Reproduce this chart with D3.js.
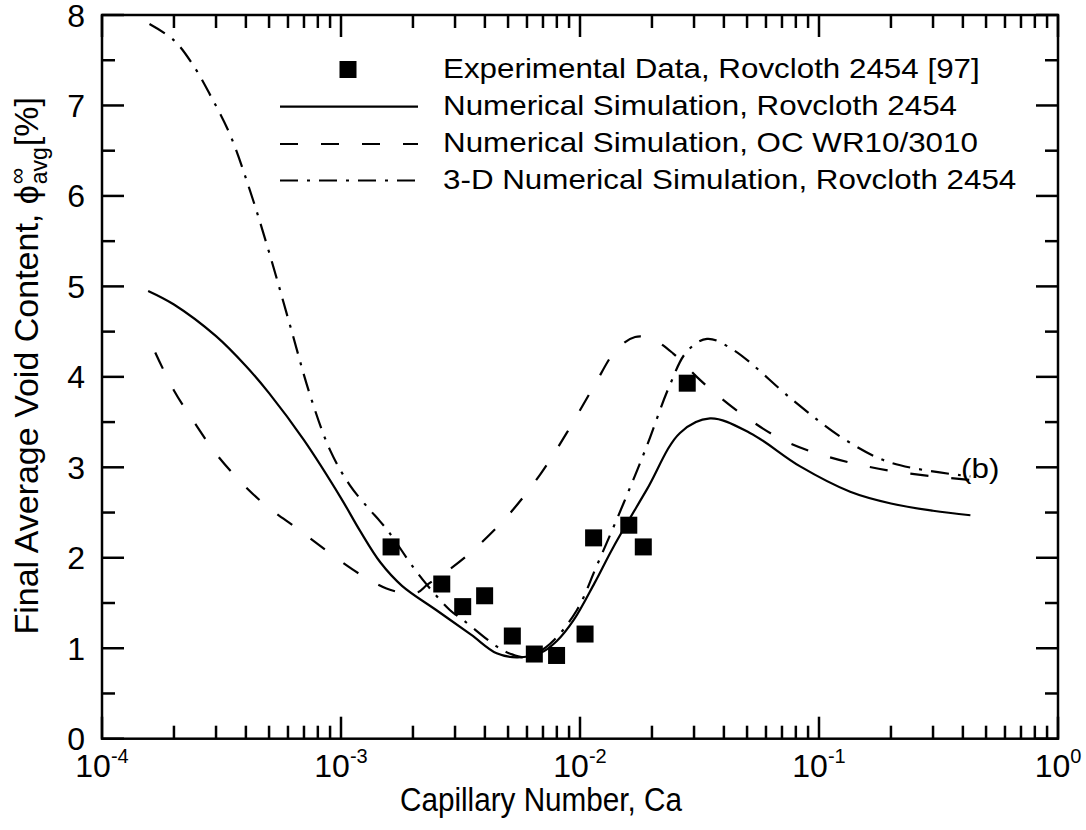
<!DOCTYPE html>
<html>
<head>
<meta charset="utf-8">
<script src="https://cdn.jsdelivr.net/npm/d3@7"></script>
<style>
  html, body { margin: 0; padding: 0; background: #fff; }
  svg { display: block; font-family: "Liberation Sans", Arial, sans-serif; }
</style>
</head>
<body>
<svg id="chart" width="1086" height="830"></svg>
<script>
// ---------- data ----------
const expCa   = [1.62e-3, 2.64e-3, 3.23e-3, 3.99e-3, 5.21e-3, 6.44e-3, 7.98e-3, 1.05e-2, 1.14e-2, 1.60e-2, 1.84e-2, 2.81e-2];
const expVoid = [2.12, 1.71, 1.46, 1.58, 1.135, 0.936, 0.92, 1.157, 2.22, 2.36, 2.12, 3.93];

const rovCa   = [1.56e-4, 2e-4, 3e-4, 4e-4, 5e-4, 7e-4, 1e-3, 1.2e-3, 1.46e-3, 1.8e-3, 2.51e-3, 3.5e-3, 4.48e-3, 5.43e-3, 6.8e-3, 8e-3, 9.4e-3, 1.15e-2, 1.38e-2, 1.9e-2, 2.62e-2, 3.5e-2, 5.14e-2, 8.34e-2, 0.135, 0.2, 0.3, 0.43];
const rovVoid = [4.95, 4.80, 4.45, 4.12, 3.82, 3.30, 2.66, 2.30, 1.95, 1.69, 1.42, 1.15, 0.944, 0.90, 0.944, 1.08, 1.31, 1.72, 2.12, 2.75, 3.38, 3.54, 3.38, 3.01, 2.73, 2.60, 2.52, 2.47];

const ocCa   = [1.67e-4, 2e-4, 2.5e-4, 3e-4, 4e-4, 5e-4, 6.5e-4, 8e-4, 1e-3, 1.25e-3, 1.55e-3, 1.85e-3, 2.1e-3, 2.29e-3, 2.77e-3, 3.39e-3, 4.93e-3, 6.81e-3, 8.8e-3, 1.14e-2, 1.42e-2, 1.7e-2, 2.0e-2, 2.45e-2, 3.08e-2, 3.6e-2, 4.8e-2, 7.08e-2, 0.108, 0.2, 0.43];
const ocVoid = [4.27, 3.85, 3.45, 3.15, 2.78, 2.55, 2.33, 2.15, 1.96, 1.79, 1.66, 1.61, 1.62, 1.70, 1.85, 2.03, 2.45, 2.92, 3.38, 3.89, 4.30, 4.44, 4.42, 4.26, 4.00, 3.84, 3.58, 3.30, 3.12, 2.96, 2.86];

const d3Ca   = [1.58e-4, 2.0e-4, 2.4e-4, 2.83e-4, 3.43e-4, 4.16e-4, 5.05e-4, 6.12e-4, 7.42e-4, 9.0e-4, 1.09e-3, 1.3e-3, 1.46e-3, 1.6e-3, 2.0e-3, 2.29e-3, 2.86e-3, 3.25e-3, 4.48e-3, 5.1e-3, 6e-3, 7.5e-3, 9.7e-3, 1.17e-2, 1.52e-2, 1.9e-2, 2.36e-2, 2.8e-2, 3.4e-2, 4.37e-2, 7.8e-2, 0.126, 0.2, 0.43];
const d3Void = [7.90, 7.72, 7.45, 7.12, 6.68, 6.06, 5.34, 4.57, 3.80, 3.19, 2.80, 2.55, 2.40, 2.27, 1.90, 1.70, 1.42, 1.31, 1.02, 0.94, 0.90, 1.05, 1.42, 1.90, 2.60, 3.23, 3.89, 4.28, 4.42, 4.30, 3.74, 3.32, 3.05, 2.90];

const xTickExps = [-4, -3, -2, -1, 0];
const yTicks = [0, 1, 2, 3, 4, 5, 6, 7, 8];

const legendLabels = [
  "Experimental Data, Rovcloth 2454 [97]",
  "Numerical Simulation, Rovcloth 2454",
  "Numerical Simulation, OC WR10/3010",
  "3-D Numerical Simulation, Rovcloth 2454"
];

// ---------- layout ----------
const svg = d3.select("#chart");
const L = 102, R = 1058, T = 15, B = 738.7;
const x = d3.scaleLog().domain([1e-4, 1]).range([L, R]);
const y = d3.scaleLinear().domain([0, 8]).range([B, T]);

const TICKFONT = 32;
const dashStyle = "18 23";
const dashDotStyle = "18 9 3 9";

// plot lines
const line = d3.line().x(d => x(d[0])).y(d => y(d[1])).curve(d3.curveCatmullRom.alpha(0.5));
function drawSeries(ca, v, dash) {
  svg.append("path")
    .datum(ca.map((c, i) => [c, v[i]]))
    .attr("d", line)
    .attr("fill", "none")
    .attr("stroke", "#000")
    .attr("stroke-width", 2.2)
    .attr("stroke-dasharray", dash);
}
drawSeries(rovCa, rovVoid, null);
drawSeries(ocCa, ocVoid, dashStyle);
drawSeries(d3Ca, d3Void, dashDotStyle);

// experimental squares
const S = 17;
svg.append("g").selectAll("rect")
  .data(expCa.map((c, i) => [c, expVoid[i]]))
  .join("rect")
  .attr("x", d => x(d[0]) - S / 2)
  .attr("y", d => y(d[1]) - S / 2)
  .attr("width", S).attr("height", S)
  .attr("fill", "#000");

// axes (ticks inside)
const minorX = [];
for (let e = -4; e < 0; e++) for (let m = 2; m <= 9; m++) minorX.push(m * Math.pow(10, e));
const majorX = xTickExps.map(e => Math.pow(10, e));
const minorY = d3.range(0.5, 8, 1);

const axisG = svg.append("g").attr("stroke", "#000").attr("stroke-width", 2.5);
function tickLines(vals, scale, dir, len) {
  vals.forEach(v => {
    const p = scale(v);
    if (dir === "bottom") axisG.append("line").attr("x1", p).attr("x2", p).attr("y1", B).attr("y2", B - len);
    if (dir === "top") axisG.append("line").attr("x1", p).attr("x2", p).attr("y1", T).attr("y2", T + len);
    if (dir === "left") axisG.append("line").attr("y1", p).attr("y2", p).attr("x1", L).attr("x2", L + len);
    if (dir === "right") axisG.append("line").attr("y1", p).attr("y2", p).attr("x1", R).attr("x2", R - len);
  });
}
tickLines(majorX, x, "bottom", 22); tickLines(minorX, x, "bottom", 13);
tickLines(majorX, x, "top", 22); tickLines(minorX, x, "top", 13);
tickLines(yTicks, y, "left", 22); tickLines(minorY, y, "left", 13);
tickLines(yTicks, y, "right", 22); tickLines(minorY, y, "right", 13);
svg.append("rect").attr("x", L).attr("y", T).attr("width", R - L).attr("height", B - T)
  .attr("fill", "none").attr("stroke", "#000").attr("stroke-width", 2.5);

// y tick labels
svg.append("g").selectAll("text").data(yTicks).join("text")
  .attr("x", 85).attr("y", d => y(d) + 11.5)
  .attr("text-anchor", "end").attr("font-size", TICKFONT)
  .text(d => d);

// x tick labels
xTickExps.forEach(e => {
  const t = svg.append("text")
    .attr("x", x(Math.pow(10, e))).attr("y", 777)
    .attr("text-anchor", "middle").attr("font-size", TICKFONT);
  t.append("tspan").text("10");
  t.append("tspan").attr("font-size", 20).attr("dy", -14).text(e);
});

// x title
svg.append("text")
  .attr("transform", "translate(541, 811) scale(0.9, 1)")
  .attr("text-anchor", "middle").attr("font-size", 33)
  .text("Capillary Number, Ca");

// y title with stacked super/subscript
const YF = 34;
const yt = svg.append("g");
const t1 = yt.append("text").attr("font-size", YF).attr("x", 0).attr("y", 0).text("Final Average Void Content, \u03D5");
const w1 = t1.node().getComputedTextLength();
const sup = yt.append("text").attr("font-size", 23).attr("x", w1 + 1).attr("y", -13).text("\u221E");
const sub = yt.append("text").attr("font-size", 23).attr("x", w1 + 1).attr("y", 9).text("avg");
const w2 = Math.max(sup.node().getComputedTextLength(), sub.node().getComputedTextLength()) + 2;
const t3 = yt.append("text").attr("font-size", YF).attr("x", w1 + w2).attr("y", 0).text(" [%]");
const W = w1 + w2 + t3.node().getComputedTextLength();
yt.attr("transform", `translate(38, ${97 + W}) rotate(-90)`);

// legend
const LX1 = 280, LX2 = 418, TX = 443;
const rowY = [69.5, 106.7, 144, 180.5];
svg.append("rect").attr("x", 348 - S / 2).attr("y", rowY[0] - S / 2).attr("width", S).attr("height", S).attr("fill", "#000");
[null, dashStyle, dashDotStyle].forEach((dash, i) => {
  svg.append("line").attr("x1", LX1).attr("x2", LX2).attr("y1", rowY[i + 1]).attr("y2", rowY[i + 1])
    .attr("stroke", "#000").attr("stroke-width", 2.2).attr("stroke-dasharray", dash);
});
svg.append("g").selectAll("text").data(legendLabels).join("text")
  .attr("transform", (d, i) => `translate(${TX}, ${rowY[i] + 8}) scale(1.12, 1)`)
  .attr("font-size", 28)
  .text(d => d);

// panel label
svg.append("text").attr("transform", "translate(961, 478) scale(1.12, 1)").attr("font-size", 28).text("(b)");
</script>
</body>
</html>
